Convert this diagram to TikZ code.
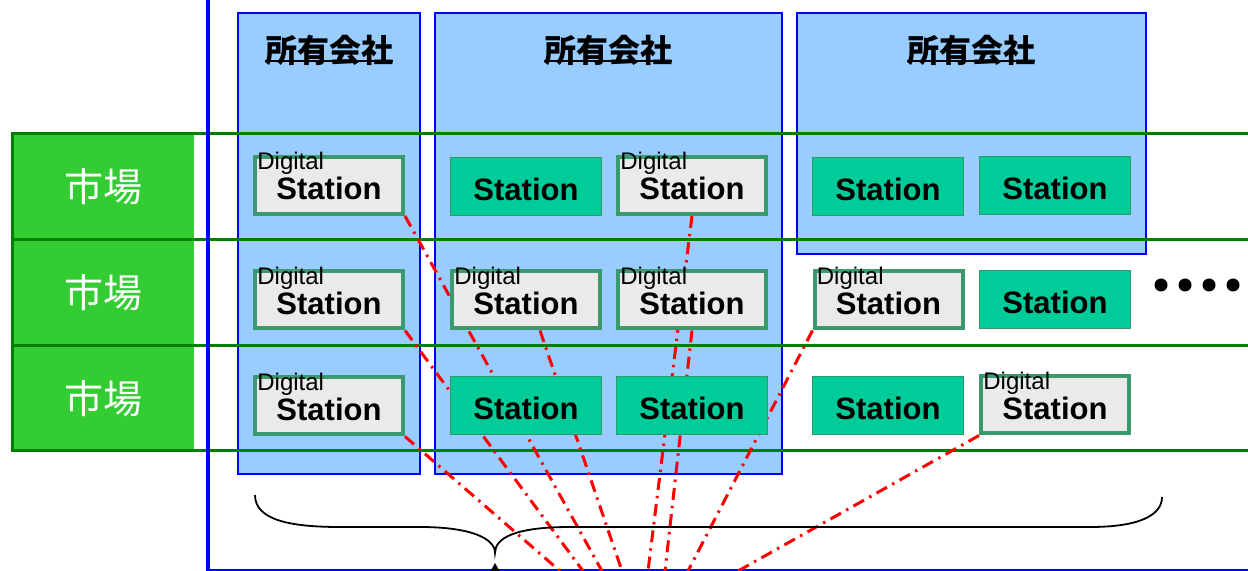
\documentclass[tikz,border=0pt]{standalone}
\usepackage{fontspec}
\setmainfont{Liberation Sans}
\newfontfamily\jpfont{Noto Sans CJK JP}
\definecolor{ownerfill}{HTML}{99CCFF}
\definecolor{ownerblue}{HTML}{0000FF}
\definecolor{rowgreen}{HTML}{008000}
\definecolor{lblfill}{HTML}{33CC33}
\definecolor{stnfill}{HTML}{00CC99}
\definecolor{stnborder}{HTML}{339966}
\definecolor{dsfill}{HTML}{EAEAEA}
\definecolor{dsborder}{RGB}{58,154,110}
\definecolor{linkred}{HTML}{FF0000}
\pgfdeclarelayer{bglayer}
\pgfdeclarelayer{midlayer}
\pgfsetlayers{bglayer,midlayer,main}
\tikzset{
  ownerbox/.style={draw=ownerblue, fill=ownerfill, line width=1pt},
  ownertitle/.style={inner sep=0pt, font=\jpfont\bfseries\fontsize{16}{16}\selectfont},
  rowline/.style={draw=rowgreen, line width=1.5pt},
  mkt/.style={fill=lblfill, minimum width=91pt, minimum height=53pt, inner sep=0pt,
    text=white, font=\jpfont\fontsize{19.5}{20}\selectfont},
  stn/.style={draw=stnborder, fill=stnfill, line width=0.5pt, minimum width=75.5pt,
    minimum height=29pt, inner sep=0pt, text height=14pt, text depth=0pt,
    font=\bfseries\fontsize{15.5}{16}\selectfont},
  dstn/.style={draw=dsborder, fill=dsfill, line width=2pt, minimum width=74pt,
    minimum height=28.5pt, inner sep=0pt, text height=14.5pt, text depth=0pt,
    font=\bfseries\fontsize{15.5}{16}\selectfont},
  dig/.style={inner sep=0pt, anchor=base west, font=\fontsize{12}{12}\selectfont},
  link/.style={draw=linkred, line width=1.5pt, dash pattern=on 6pt off 3pt on 1.2pt off 3pt},
  brace/.style={draw=black, line width=0.9pt},
  dotmark/.style={fill=black, circle, minimum size=6.5pt, inner sep=0pt}
}
\begin{document}
\begin{tikzpicture}[x=0.5pt,y=-0.5pt]
\useasboundingbox (0,0) rectangle (1248,571);
\clip (0,0) rectangle (1248,571);

\begin{pgfonlayer}{bglayer}
\fill[white] (0,0) rectangle (1248,571);
% owner companies
\draw[ownerbox] (238,13) rectangle (420,474);
\draw[ownerbox] (435,13) rectangle (782,474);
\draw[ownerbox] (797,13) rectangle (1146,254);
% markets
\node[mkt] (m1) at (103,187) {市場};
\node[mkt] (m2) at (103,293) {市場};
\node[mkt] (m3) at (103,398.5) {市場};
\draw[rowline] (12,134) rectangle (1270,240);
\draw[rowline] (12,240) rectangle (1270,346);
\draw[rowline] (12,346) rectangle (1270,451);
% axis lines
\draw[draw=ownerblue, line width=1.8pt] (208,-5) -- (208,571);
\draw[draw=ownerblue, line width=1pt] (208,570) -- (1260,570);
\end{pgfonlayer}

\node[ownertitle] (t1) at (329,50) {所有会社};
\node[ownertitle] (t2) at (608,50) {所有会社};
\node[ownertitle] (t3) at (971,50) {所有会社};
\foreach \t in {t1,t2,t3}
  \draw[line width=1pt] ([yshift=0.6pt]\t.base west) -- ([yshift=0.6pt]\t.base east);

% brace
\draw[brace] (255,495) .. controls (255,520) and (290,527) .. (340,527)
  -- (420,527) .. controls (470,527) and (495,538) .. (495,553)
  .. controls (495,538) and (515,527) .. (570,527)
  -- (1090,527) .. controls (1140,527) and (1162,515) .. (1162,497);
\fill[black] (495,563) -- (490,572) -- (500,572) -- cycle;

% stations: row 1
\node[dstn] (d11) at (329,185.5) {Station};
\node[stn]  (s12) at (526,186.5) {Station};
\node[dstn] (d13) at (692,185.5) {Station};
\node[stn]  (s14) at (888,186.5) {Station};
\node[stn]  (s15) at (1055,186) {Station};
% row 2
\node[dstn] (d21) at (329,300) {Station};
\node[dstn] (d22) at (526,300) {Station};
\node[dstn] (d23) at (692,300) {Station};
\node[dstn] (d24) at (888.5,300) {Station};
\node[stn]  (s25) at (1055,299.5) {Station};
% row 3
\node[dstn] (d31) at (329,406) {Station};
\node[stn]  (s32) at (526,406) {Station};
\node[stn]  (s33) at (692,406) {Station};
\node[stn]  (s34) at (888,405.5) {Station};
\node[dstn] (d35) at (1055,405) {Station};

% Digital labels
\foreach \d in {d11,d13,d21,d22,d23,d24,d31,d35}
  \node[dig] at ([xshift=2pt,yshift=-7.5pt]\d.north west) {Digital};

% free ends of links
\coordinate (e1) at (560,571);
\coordinate (e2) at (583,571);
\coordinate (e3) at (602,571);
\coordinate (e4) at (622,571);
\coordinate (e5) at (648,571);
\coordinate (e6) at (665,571);
\coordinate (e7) at (688,571);
\coordinate (e8) at (738,571);

\begin{pgfonlayer}{midlayer}
\draw[link] (d31.south east) -- (e1);
\draw[link] (d21.south east) -- (e2);
\draw[link] (d11.south east) -- (e3);
\draw[link] ([xshift=7pt]d22.south) -- (e4);
\draw[link] (d13.south) -- (e5);
\draw[link] (d23.south) -- (e6);
\draw[link] (d24.south west) -- (e7);
\draw[link] (d35.south west) -- (e8);
\end{pgfonlayer}

% ellipsis dots
\node[dotmark] (p1) at (1161,285) {};
\node[dotmark] (p2) at (1185,285) {};
\node[dotmark] (p3) at (1209,285) {};
\node[dotmark] (p4) at (1233,285) {};
\end{tikzpicture}
\end{document}
